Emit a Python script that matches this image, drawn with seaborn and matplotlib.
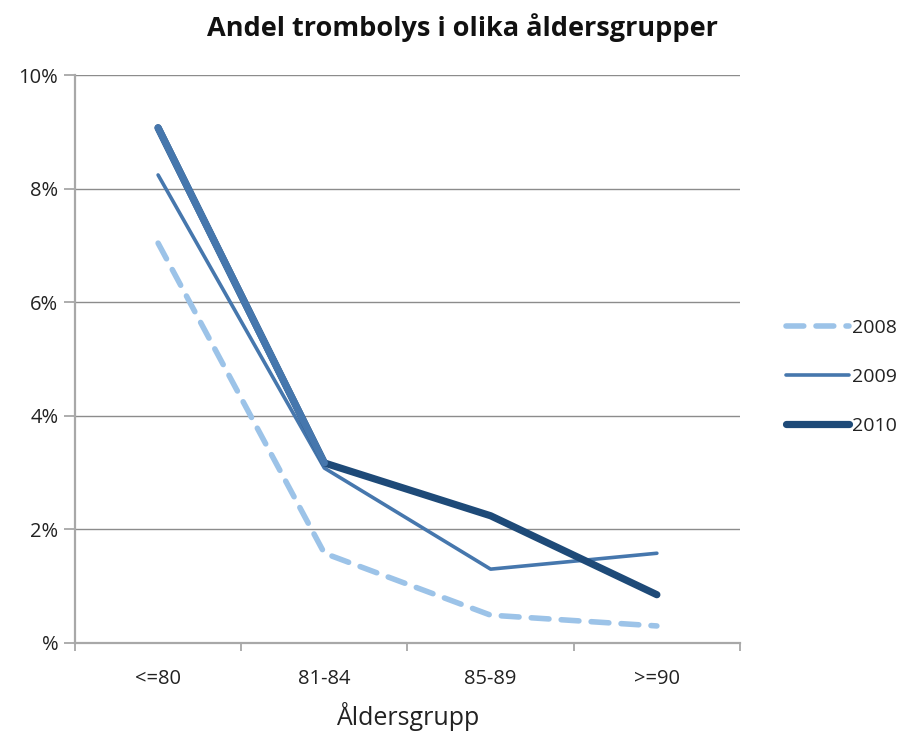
import matplotlib
matplotlib.use("Agg")
import matplotlib.pyplot as plt
import seaborn as sns
import pandas as pd
from matplotlib.ticker import FixedLocator, FuncFormatter

categories = ["<=80", "81-84", "85-89", ">=90"]
v2008 = [7.04, 1.58, 0.49, 0.30]
v2009 = [8.24, 3.08, 1.30, 1.58]
v2010 = [9.07, 3.17, 2.24, 0.85]
years = ["2008", "2009", "2010"]

sns.set_theme(style="white")
plt.rcParams['font.family'] = ['Open Sans', 'DejaVu Sans']

rows = []
for yr, vals in zip(years, [v2008, v2009, v2010]):
    for i, (c, v) in enumerate(zip(categories, vals)):
        rows.append({"year": yr, "pos": i, "cat": c, "val": v})
df = pd.DataFrame(rows)

fig = plt.figure(figsize=(9.01, 7.31), dpi=100)
ax = fig.add_axes([0.0832, 0.1204, 0.7381, 0.7770])

colors = {"2008": "#9CC3E8", "2009": "#4677AD", "2010": "#1E4A78"}
widths = {"2008": 4.0, "2009": 2.6, "2010": 5.2}

for yr in years:
    d = df[df.year == yr]
    sns.lineplot(data=d, x="pos", y="val", ax=ax, color=colors[yr],
                 linewidth=widths[yr], label=yr,
                 linestyle="--" if yr == "2008" else "-",
                 solid_capstyle="round", dash_capstyle="round",
                 solid_joinstyle="round", sort=False)
# first segment of 2010 appears in a medium blue in the reference
d1 = df[(df.year == "2010") & (df.pos <= 1)]
sns.lineplot(data=d1, x="pos", y="val", ax=ax, color="#4677AD",
             linewidth=widths["2010"], solid_capstyle="round", legend=False)

for l in ax.get_lines():
    if l.get_linestyle() == "--":
        l.set_dashes([3.2, 2.2])

ax.set_xlim(-0.5, 3.5)
ax.set_ylim(0, 10)
ax.yaxis.set_major_locator(FixedLocator([0, 2, 4, 6, 8, 10]))
ax.yaxis.set_major_formatter(FuncFormatter(lambda v, p: "%" if v == 0 else f"{int(v)}%"))
ax.set_xticks(range(4))
ax.set_xticklabels(categories)
ax.set_xticks([-0.5, 0.5, 1.5, 2.5, 3.5], minor=True)
ax.tick_params(axis="x", which="major", length=0, pad=19, labelsize=14.5, labelcolor="#222222")
ax.tick_params(axis="x", which="minor", length=6, width=1.2, color="#A0A0A0", direction="out", bottom=True)
ax.tick_params(axis="y", length=8, width=1.2, color="#A0A0A0", direction="out", left=True,
               labelsize=14.5, labelcolor="#222222", pad=4)
ax.grid(axis="y", color="#8C8C8C", linewidth=1.0)
ax.set_axisbelow(True)
for s in ["top", "right"]:
    ax.spines[s].set_visible(False)
for s in ["left", "bottom"]:
    ax.spines[s].set_color("#A8A8A8")
    ax.spines[s].set_linewidth(1.6)

ax.set_xlabel("Åldersgrupp", fontsize=18, color="#222222", labelpad=9)
ax.set_ylabel("")
fig.suptitle("Andel trombolys i olika åldersgrupper", x=0.513, y=0.982,
             fontsize=19.5, fontweight="bold", color="#111111")

leg = ax.legend(loc="center left", bbox_to_anchor=(1.043, 0.468), frameon=False,
                fontsize=14, handlelength=3.25, handletextpad=0.15, labelspacing=1.6)
for t in leg.get_texts():
    t.set_color("#222222")

fig.savefig("out.png", dpi=100)
